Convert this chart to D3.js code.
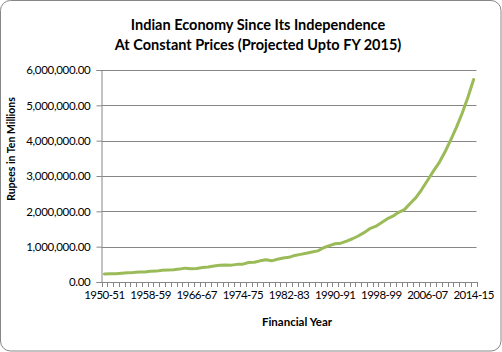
<html>
<head>
  <meta charset="utf-8">
  <title>Indian Economy Since Its Independence</title>
  <style>
    body { margin: 0; background: #fff; }
    svg text { font-family: Lato, "Open Sans", sans-serif; fill: #000; }
  </style>
  <script src="https://d3js.org/d3.v7.min.js"></script>
</head>
<body>
  <div id="chart"></div>
  <script>
    // Financial years (categories)
    const years = [
      "1950-51","1951-52","1952-53","1953-54","1954-55","1955-56","1956-57","1957-58",
      "1958-59","1959-60","1960-61","1961-62","1962-63","1963-64","1964-65","1965-66",
      "1966-67","1967-68","1968-69","1969-70","1970-71","1971-72","1972-73","1973-74",
      "1974-75","1975-76","1976-77","1977-78","1978-79","1979-80","1980-81","1981-82",
      "1982-83","1983-84","1984-85","1985-86","1986-87","1987-88","1988-89","1989-90",
      "1990-91","1991-92","1992-93","1993-94","1994-95","1995-96","1996-97","1997-98",
      "1998-99","1999-00","2000-01","2001-02","2002-03","2003-04","2004-05","2005-06",
      "2006-07","2007-08","2008-09","2009-10","2010-11","2011-12","2012-13","2013-14",
      "2014-15"
    ];

    // GDP at constant prices, Rupees in ten millions (crore)
    const gdp = [
      224786, 230034, 236562, 250965, 261622, 268352, 283537, 280194,
      301337, 307898, 329825, 340060, 347253, 364814, 392503, 378157,
      382001, 413129, 427274, 454275, 474131, 478918, 477392, 499120,
      504914, 550379, 557258, 598885, 631839, 598974, 641921, 678033,
      697861, 752669, 782484, 815049, 850217, 880267, 969702, 1029178,
      1083572, 1099072, 1158025, 1223816, 1302076, 1396974, 1508378, 1573263,
      1678410, 1786526, 1864301, 1972606, 2048286, 2222758, 2388768, 2616101,
      2871120, 3129717, 3370000, 3670000, 4010000, 4370000, 4770000, 5220000,
      5730000
    ];

    // Axis ticks
    const yTicks = [0, 1000000, 2000000, 3000000, 4000000, 5000000, 6000000];
    const xTickLabels = ["1950-51","1958-59","1966-67","1974-75","1982-83",
                         "1990-91","1998-99","2006-07","2014-15"];

    const W = 502, H = 352;
    const plot = { left: 101.5, right: 476.5, top: 70, bottom: 282 };

    const svg = d3.select("#chart").append("svg")
      .attr("width", W)
      .attr("height", H);

    // Chart border
    svg.append("rect")
      .attr("x", 0.5).attr("y", 0.5)
      .attr("width", W - 1.5).attr("height", H - 1.5)
      .attr("rx", 10).attr("ry", 10)
      .attr("fill", "#fff")
      .attr("stroke", "#868686");

    const x = d3.scaleBand().domain(years).range([plot.left, plot.right]).padding(0);
    const y = d3.scaleLinear().domain([0, 6000000]).range([plot.bottom, plot.top]);

    // Gridlines + y axis
    const yAxis = svg.append("g")
      .attr("transform", `translate(${plot.left},0)`)
      .call(d3.axisLeft(y).tickValues(yTicks).tickFormat(d3.format(",.2f"))
        .tickSize(5).tickPadding(6));
    yAxis.select(".domain").attr("stroke", "#868686");
    yAxis.selectAll(".tick line").attr("stroke", "#868686");
    yAxis.selectAll(".tick text")
      .style("font-size", "11.5px")
      .style("letter-spacing", "-0.3px");

    svg.append("g")
      .selectAll("line")
      .data(yTicks.slice(1))
      .join("line")
      .attr("x1", plot.left).attr("x2", plot.right)
      .attr("y1", d => Math.round(y(d)) + 0.5)
      .attr("y2", d => Math.round(y(d)) + 0.5)
      .attr("stroke", "#868686");

    // X axis: labels every 8 years, ticks at every category boundary
    const xAxis = svg.append("g")
      .attr("transform", `translate(0,${plot.bottom})`)
      .call(d3.axisBottom(x).tickValues(xTickLabels).tickSize(0).tickPadding(9));
    xAxis.select(".domain").attr("stroke", "#868686");
    xAxis.selectAll(".tick text")
      .style("font-size", "11.5px")
      .style("letter-spacing", "-0.55px");

    svg.append("g")
      .selectAll("line")
      .data(years.concat([null]))
      .join("line")
      .attr("x1", (d, i) => Math.round(plot.left + i * x.step()) + 0.5)
      .attr("x2", (d, i) => Math.round(plot.left + i * x.step()) + 0.5)
      .attr("y1", plot.bottom)
      .attr("y2", plot.bottom + 5)
      .attr("stroke", "#868686");

    // The series line
    const line = d3.line()
      .x((d, i) => x(years[i]) + x.bandwidth() / 2)
      .y(d => y(d));

    svg.append("path")
      .datum(gdp)
      .attr("d", line)
      .attr("fill", "none")
      .attr("stroke", "#9BBB59")
      .attr("stroke-width", 3)
      .attr("stroke-linejoin", "round")
      .attr("stroke-linecap", "round");

    // Titles
    const title = svg.append("text")
      .attr("text-anchor", "middle")
      .style("font-size", "14.5px")
      .style("font-weight", "bold");
    title.append("tspan").attr("x", 258).attr("y", 30).text("Indian Economy Since Its Independence");
    title.append("tspan").attr("x", 258).attr("y", 50).text("At Constant Prices (Projected Upto FY 2015)");

    svg.append("text")
      .attr("x", 297).attr("y", 326)
      .attr("text-anchor", "middle")
      .style("font-size", "11.5px")
      .style("font-weight", "bold")
      .text("Financial Year");

    svg.append("text")
      .attr("transform", "translate(15,149) rotate(-90)")
      .attr("text-anchor", "middle")
      .style("font-size", "10.5px")
      .style("font-weight", "bold")
      .text("Rupees in Ten Millions");
  </script>
</body>
</html>
